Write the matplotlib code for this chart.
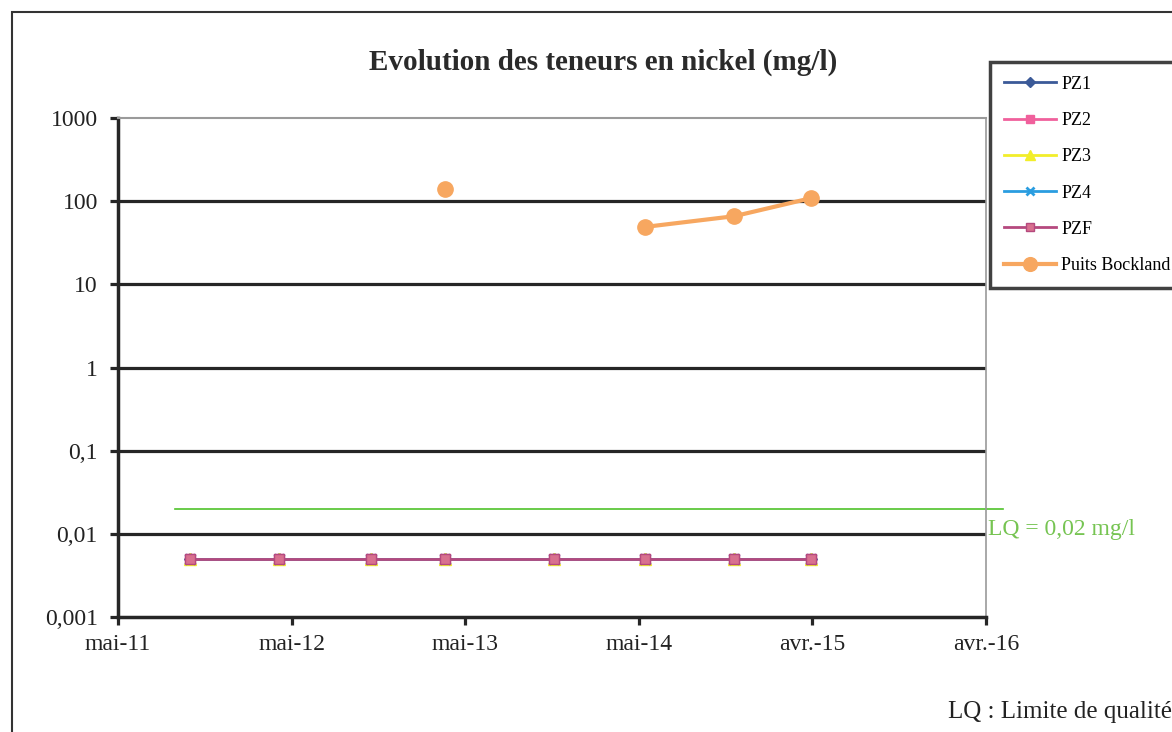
import numpy as np
import pandas as pd
import matplotlib
matplotlib.use('Agg')
from matplotlib import pyplot as plt
import matplotlib.dates as mdates
from matplotlib.patches import Rectangle

# sampling dates
dates = ['2011-09-29', '2012-04-04', '2012-10-14', '2013-03-19',
         '2013-11-03', '2014-05-13', '2014-11-17', '2015-04-28']
pz1 = [0.005, 0.005, 0.005, 0.005, 0.005, 0.005, 0.005, 0.005]
pz2 = [0.005, 0.005, 0.005, 0.005, 0.005, 0.005, 0.005, 0.005]
pz3 = [0.005, 0.005, 0.005, 0.005, 0.005, 0.005, 0.005, 0.005]
pz4 = [0.005, 0.005, 0.005, 0.005, 0.005, 0.005, 0.005, 0.005]
pzf = [0.005, 0.005, 0.005, 0.005, 0.005, 0.005, 0.005, 0.005]
bockland = [np.nan, np.nan, np.nan, 140, np.nan, 49, 66, 109]
lq = 0.02

x_start = '2011-05-01'
x_labels = ['mai-11', 'mai-12', 'mai-13', 'mai-14', 'avr.-15', 'avr.-16']
y_ticks = [0.001, 0.01, 0.1, 1, 10, 100, 1000]
y_labels = ['0,001', '0,01', '0,1', '1', '10', '100', '1000']

serif = 'Liberation Serif'
x = mdates.date2num(pd.to_datetime(dates))
x0 = mdates.date2num(pd.Timestamp(x_start))
x_ticks = [x0 + 365 * k for k in range(len(x_labels))]

fig = plt.figure(figsize=(11.72, 7.32), dpi=100)
W, H = 1172, 732
ax = fig.add_axes([118 / W, 1 - 617 / H, 868 / W, 499 / H])

ax.set_yscale('log')
ax.set_ylim(0.001, 1000)
ax.set_xlim(x_ticks[0], x_ticks[-1])

for v in y_ticks[1:-1]:
    ax.axhline(v, color='#262626', lw=2.3, zorder=1)

ax.plot(x, pz1, color='#3b5a98', marker='D', ms=6, lw=2, label='PZ1', zorder=3)
ax.plot(x, pz2, color='#f0609c', marker='s', ms=7, lw=2, label='PZ2', zorder=3)
ax.plot(x, pz3, color='#f2ee2a', marker='^', ms=8, lw=2, label='PZ3', zorder=3)
ax.plot(x, pz4, color='#2a9de0', marker='x', ms=7, mew=2, lw=2, label='PZ4', zorder=3)
ax.plot(x, pzf, color='#b5497e', marker='s', ms=7, mfc='#d8708f', lw=2, label='PZF', zorder=4)
ax.plot(x, bockland, color='#f7a760', marker='o', ms=11, lw=3, label='Puits Bockland', zorder=4)

# LQ line drawn across the plot (goes slightly past the right edge)
lq_x = [x0 + 120, x0 + 1861]
ax.plot(lq_x, [lq, lq], color='#4fc22a', lw=1.2, clip_on=False, zorder=2)
ax.text(x0 + 1829, lq * 0.57, 'LQ = 0,02 mg/l', color='#76c452', fontsize=17,
        family=serif, va='center', ha='left')

ax.set_yticks(y_ticks)
ax.set_yticklabels(y_labels)
ax.minorticks_off()
ax.set_xticks(x_ticks)
ax.set_xticklabels(x_labels)
ax.tick_params(axis='both', length=6, width=2.3, color='#262626', labelsize=17,
               labelcolor='#222222')
ax.tick_params(axis='y', pad=8.5)
ax.tick_params(axis='x', pad=6)
for lab in ax.get_xticklabels() + ax.get_yticklabels():
    lab.set_family(serif)

ax.spines['left'].set_linewidth(2.5)
ax.spines['left'].set_color('#262626')
ax.spines['bottom'].set_linewidth(2.5)
ax.spines['bottom'].set_color('#262626')
ax.spines['top'].set_linewidth(1.5)
ax.spines['top'].set_color('#9a9a9a')
ax.spines['right'].set_linewidth(1.2)
ax.spines['right'].set_color('#9a9a9a')

fig.text(603 / W, 1 - 62 / H, 'Evolution des teneurs en nickel (mg/l)',
         family=serif, fontweight='bold', fontsize=21, ha='center', va='center',
         color='#2a2a2a')
fig.text(948 / W, 1 - 712 / H, 'LQ : Limite de qualité', family=serif,
         fontsize=18, ha='left', va='center', color='#222222')

leg = fig.legend(loc='upper left', bbox_to_anchor=(990 / W, 1 - 62 / H),
                 prop={'family': serif, 'size': 13}, frameon=True, fancybox=False,
                 borderaxespad=0, labelspacing=1.07, handlelength=2.9,
                 handletextpad=0.3, borderpad=0.75, markerscale=0.9)
leg.get_frame().set_edgecolor('#111111')
leg.get_frame().set_linewidth(2.5)

# outer chart border
fig.patches.append(Rectangle((12 / W, -0.1), 1.2, 1 - 12 / H + 0.1,
                             transform=fig.transFigure, fill=False,
                             edgecolor='#333333', lw=1.5))

plt.savefig('out.png', dpi=100)
